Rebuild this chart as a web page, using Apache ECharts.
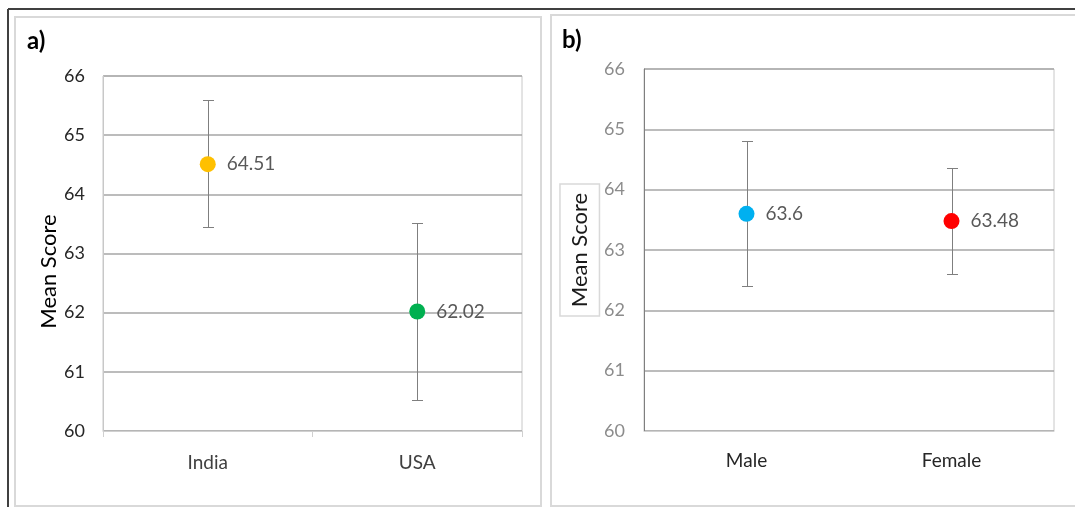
<!DOCTYPE html>
<html>
<head>
<meta charset="utf-8">
<script src="https://cdn.jsdelivr.net/npm/echarts@6/dist/echarts.min.js"></script>
<style>
html, body { margin: 0; padding: 0; background: #fff; }
#main { width: 1075px; height: 507px; }
</style>
</head>
<body>
<div id="main"></div>
<script>
// panel a) country
const countries = ['India', 'USA'];
const countryMeans = [64.51, 62.02];
const countryLow = [63.44, 60.52];
const countryHigh = [65.6, 63.52];
const countryColors = ['#FFC000', '#00B050'];

// panel b) gender
const genders = ['Male', 'Female'];
const genderMeans = [63.6, 63.48];
const genderLow = [62.4, 62.6];
const genderHigh = [64.8, 64.36];
const genderColors = ['#00B0F0', '#FF0000'];

const yTicks = [60, 61, 62, 63, 64, 65, 66];

const font = 'Lato, "Noto Sans", sans-serif';

let myChart = echarts.init(document.getElementById('main'));

function points(idx, means, colors) {
    return {
        type: 'scatter',
        xAxisIndex: idx,
        yAxisIndex: idx,
        symbolSize: 16,
        z: 5,
        data: means.map((v, i) => ({ value: [i, v], itemStyle: { color: colors[i], opacity: 1 } })),
        label: {
            show: true,
            position: 'right',
            distance: 11,
            color: '#595959',
            fontSize: 19,
            fontFamily: font,
            formatter: p => p.value[1]
        }
    };
}

function errorBars(idx, low, high) {
    return {
        type: 'custom',
        xAxisIndex: idx,
        yAxisIndex: idx,
        z: 3,
        silent: true,
        encode: { x: 0, y: [1, 2] },
        data: low.map((v, i) => [i, v, high[i]]),
        renderItem: function (params, api) {
            let top = api.coord([api.value(0), api.value(2)]);
            let bot = api.coord([api.value(0), api.value(1)]);
            let x = Math.round(top[0]) + 0.5;
            let y1 = Math.round(top[1]) + 0.5;
            let y2 = Math.round(bot[1]) + 0.5;
            let w = 5.5;
            let style = { stroke: '#7f7f7f', lineWidth: 1 };
            return {
                type: 'group',
                children: [
                    { type: 'line', shape: { x1: x, y1: y1, x2: x, y2: y2 }, style: style },
                    { type: 'line', shape: { x1: x - w, y1: y1, x2: x + w, y2: y1 }, style: style },
                    { type: 'line', shape: { x1: x - w, y1: y2, x2: x + w, y2: y2 }, style: style }
                ]
            };
        }
    };
}

let option = {
    backgroundColor: '#fff',
    animation: false,
    title: [
        { text: 'a)', left: 22, top: 24, textStyle: { fontSize: 24, fontWeight: 'bold', color: '#000', fontFamily: font } },
        { text: 'b)', left: 557, top: 23, textStyle: { fontSize: 24, fontWeight: 'bold', color: '#000', fontFamily: font } }
    ],
    graphic: [
        { type: 'line', shape: { x1: 8, y1: 9, x2: 1075, y2: 9 }, style: { stroke: '#404040', lineWidth: 2 } },
        { type: 'line', shape: { x1: 8, y1: 9, x2: 8, y2: 507 }, style: { stroke: '#404040', lineWidth: 2 } },
        { type: 'rect', shape: { x: 15, y: 17, width: 526, height: 489 }, style: { fill: 'none', stroke: '#d9d9d9', lineWidth: 2 } },
        { type: 'rect', shape: { x: 551, y: 15, width: 540, height: 491 }, style: { fill: 'none', stroke: '#d9d9d9', lineWidth: 2 } }
    ],
    grid: [
        { left: 103, top: 76, width: 419, height: 355, show: true, borderColor: '#c8c8c8', borderWidth: 1 },
        { left: 644, top: 69, width: 410, height: 362, show: true, borderColor: '#c8c8c8', borderWidth: 1 }
    ],
    xAxis: [
        {
            type: 'category', gridIndex: 0, data: countries,
            axisLine: { lineStyle: { color: '#d0d0d0', width: 1 } },
            axisTick: { show: true, length: 6, lineStyle: { color: '#d0d0d0' } },
            axisLabel: { color: '#404040', fontSize: 19, fontFamily: font, margin: 22 }
        },
        {
            type: 'category', gridIndex: 1, data: genders,
            axisLine: { lineStyle: { color: '#d0d0d0', width: 1 } },
            axisTick: { show: false },
            axisLabel: { color: '#262626', fontSize: 19, fontFamily: font, margin: 20 }
        }
    ],
    yAxis: [
        {
            type: 'value', gridIndex: 0,
            min: yTicks[0], max: yTicks[yTicks.length - 1], interval: yTicks[1] - yTicks[0],
            axisLine: { show: true, lineStyle: { color: '#c8c8c8' } },
            axisTick: { show: false },
            axisLabel: { color: '#262626', fontSize: 18, fontFamily: font, margin: 18 },
            splitLine: { lineStyle: { color: '#a6a6a6', width: 1.5 } },
            name: 'Mean Score',
            nameLocation: 'middle',
            nameRotate: 90,
            nameGap: 40,
            nameTextStyle: { color: '#000', fontSize: 22, fontFamily: font, padding: [0, 36, 0, 0] }
        },
        {
            type: 'value', gridIndex: 1,
            min: yTicks[0], max: yTicks[yTicks.length - 1], interval: yTicks[1] - yTicks[0],
            axisLine: { show: true, lineStyle: { color: '#7f7f7f' } },
            axisTick: { show: false },
            axisLabel: { color: '#8c8c8c', fontSize: 18, fontFamily: font, margin: 19 },
            splitLine: { lineStyle: { color: '#a6a6a6', width: 1.5 } },
            name: 'Mean Score',
            nameLocation: 'middle',
            nameRotate: 90,
            nameGap: 45,
            nameTextStyle: {
                color: '#1a1a1a', fontSize: 22, fontFamily: font,
                borderColor: '#d9d9d9', borderWidth: 1.5, backgroundColor: '#fff',
                lineHeight: 26, padding: [6, 8, 6, 8]
            }
        }
    ],
    series: [
        errorBars(0, countryLow, countryHigh),
        points(0, countryMeans, countryColors),
        errorBars(1, genderLow, genderHigh),
        points(1, genderMeans, genderColors)
    ]
};

myChart.setOption(option);
</script>
</body>
</html>
